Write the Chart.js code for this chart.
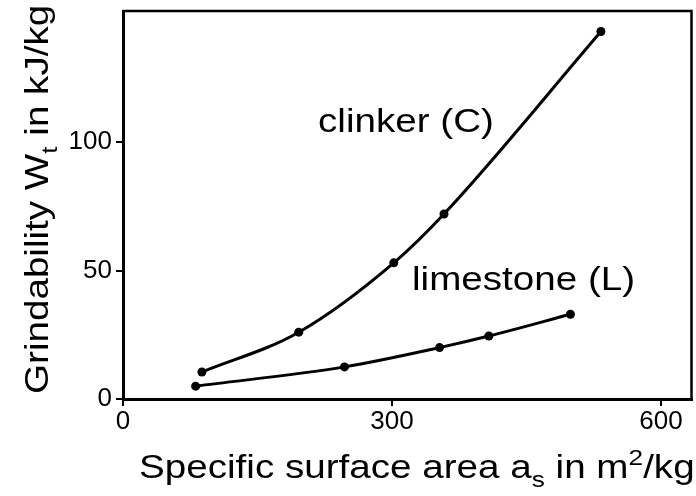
<!DOCTYPE html>
<html>
<head>
<meta charset="utf-8">
<script src="https://cdn.jsdelivr.net/npm/chart.js@4/dist/chart.umd.min.js"></script>
<style>
  html, body { margin: 0; padding: 0; background: #fff; }
  #wrap { width: 696px; height: 496px; position: relative; }
</style>
</head>
<body>
<div id="wrap"><canvas id="grindChart"></canvas></div>
<script>
// values
const clinkerArea = [88, 196, 302, 358, 533];
const clinkerWork = [10.5, 26, 53, 72, 143];
const limestoneArea = [81, 247, 353, 408, 499];
const limestoneWork = [5, 12.5, 20, 24.5, 33];
const xTicks = [0, 300, 600];
const yTicks = [0, 50, 100];

const FONT = "'Liberation Sans', Arial, sans-serif";
const STRETCH = 1.17; // the scan's lettering is wider than Arial

// write a run of text pieces, some of them sub/superscript
function drawRich(ctx, parts, size) {
    let x = 0;
    parts.forEach(p => {
        const small = p.pos === 'sub' || p.pos === 'sup';
        const fs = small ? size * 0.68 : size;
        ctx.font = fs + 'px ' + FONT;
        const dy = p.pos === 'sub' ? size * 0.28 : p.pos === 'sup' ? -size * 0.38 : 0;
        ctx.fillText(p.text, x, dy);
        x += ctx.measureText(p.text).width;
    });
}

const textPlugin = {
    id: 'figureText',
    afterDraw(chart) {
        const ctx = chart.ctx;
        const a = chart.chartArea;
        ctx.save();
        ctx.fillStyle = '#000';
        ctx.strokeStyle = '#000';
        ctx.textBaseline = 'alphabetic';
        ctx.textAlign = 'left';

        // top and right frame lines
        ctx.lineWidth = 2.5;
        ctx.beginPath();
        ctx.moveTo(a.left, a.top);
        ctx.lineTo(a.right, a.top);
        ctx.lineTo(a.right, a.bottom);
        ctx.stroke();

        const labels = [
            {x: 318, y: 132, rot: false, parts: [{text: 'clinker (C)'}]},
            {x: 412, y: 290, rot: false, parts: [{text: 'limestone (L)'}]},
            {x: 139, y: 478, rot: false, parts: [
                {text: 'Specific surface area a'}, {text: 's', pos: 'sub'},
                {text: ' in m'}, {text: '2', pos: 'sup'}, {text: '/kg'}]},
            {x: 48, y: 394, rot: true, parts: [
                {text: 'Grindability W'}, {text: 't', pos: 'sub'},
                {text: ' in kJ/kg'}]}
        ];
        labels.forEach(l => {
            ctx.save();
            ctx.translate(l.x, l.y);
            if (l.rot) ctx.rotate(-Math.PI / 2);
            ctx.scale(STRETCH, 1);
            drawRich(ctx, l.parts, 33);
            ctx.restore();
        });
        ctx.restore();
    }
};

const curveStyle = {
    showLine: true,
    borderColor: '#000',
    backgroundColor: '#000',
    borderWidth: 3,
    pointRadius: 4.5,
    pointBorderWidth: 0,
    cubicInterpolationMode: 'monotone'
};

const ctx = document.getElementById('grindChart').getContext('2d');
new Chart(ctx, {
    type: 'scatter',
    data: {
        datasets: [
            {label: 'clinker (C)', data: clinkerArea.map((x, i) => ({x: x, y: clinkerWork[i]})), ...curveStyle},
            {label: 'limestone (L)', data: limestoneArea.map((x, i) => ({x: x, y: limestoneWork[i]})), ...curveStyle}
        ]
    },
    options: {
        responsive: true,
        maintainAspectRatio: false,
        animation: false,
        layout: { padding: {left: 0, right: 2, top: 11, bottom: 0} },
        plugins: { legend: {display: false}, tooltip: {enabled: false} },
        scales: {
            x: {
                type: 'linear', min: 0, max: 634,
                afterBuildTicks: s => { s.ticks = xTicks.map(v => ({value: v})); },
                afterFit: s => { s.height = 97; s.paddingLeft = 0; s.paddingRight = 0; },
                grid: {drawOnChartArea: false, color: '#000', lineWidth: 2, tickLength: 7},
                border: {color: '#000', width: 3},
                ticks: {color: '#000', padding: 0, maxRotation: 0, font: {family: FONT, size: 26}}
            },
            y: {
                min: 0, max: 151,
                afterBuildTicks: s => { s.ticks = yTicks.map(v => ({value: v})); },
                afterFit: s => { s.width = 123; s.paddingTop = 0; s.paddingBottom = 0; },
                grid: {drawOnChartArea: false, color: '#000', lineWidth: 2, tickLength: 7},
                border: {color: '#000', width: 3},
                ticks: {color: '#000', padding: 4, font: {family: FONT, size: 26}}
            }
        }
    },
    plugins: [textPlugin]
});
</script>
</body>
</html>
